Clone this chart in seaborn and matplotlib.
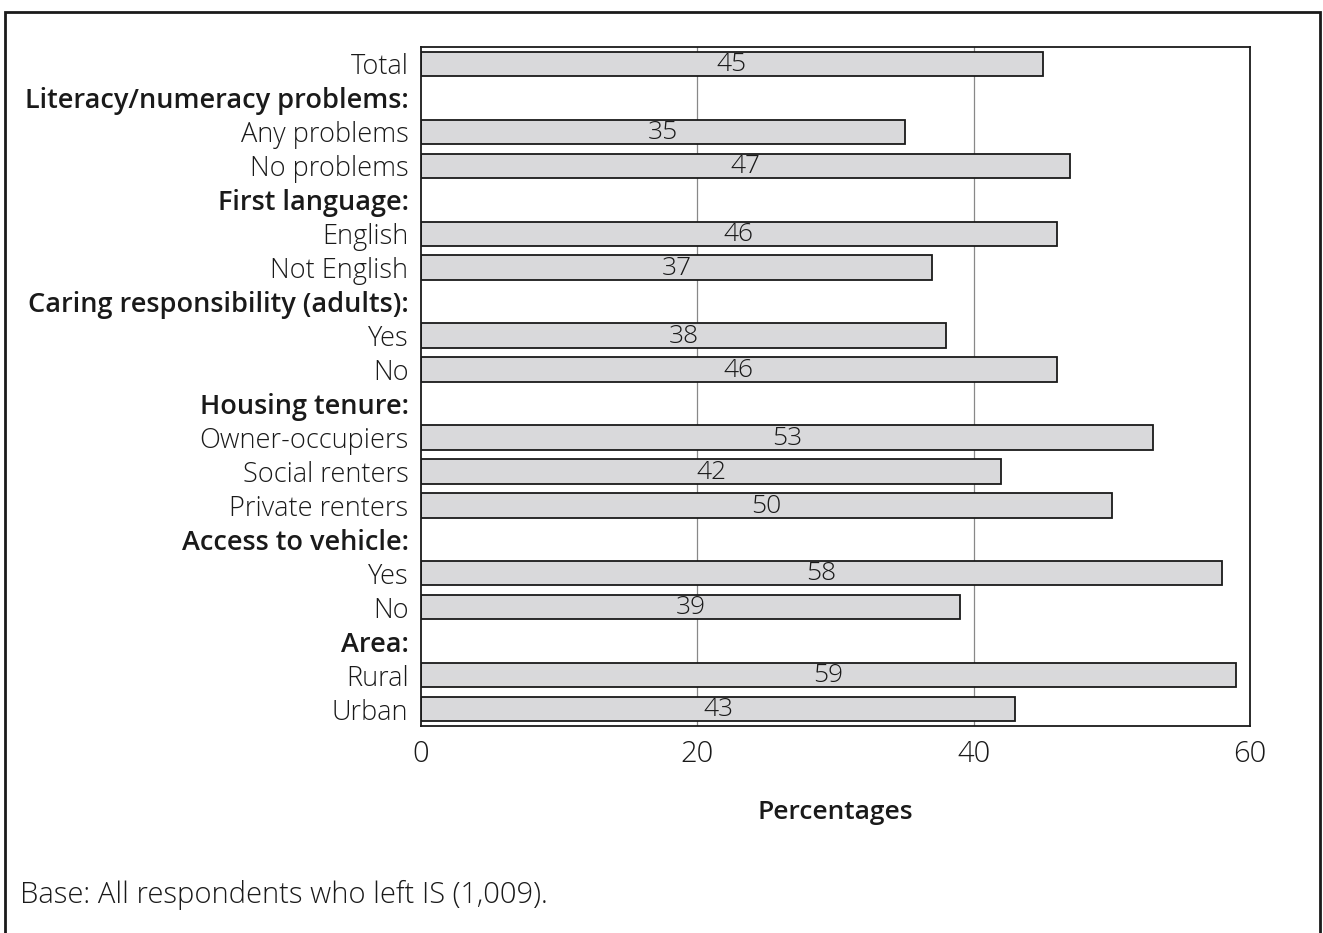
import numpy as np
import pandas as pd
import matplotlib
matplotlib.use("Agg")
import matplotlib.pyplot as plt
from matplotlib.patches import Rectangle
import seaborn as sns

# Row labels (top to bottom); group headings carry no value
labels = [
    "Total",
    "Literacy/numeracy problems:", "Any problems", "No problems",
    "First language:", "English", "Not English",
    "Caring responsibility (adults):", "Yes", "No",
    "Housing tenure:", "Owner-occupiers", "Social renters", "Private renters",
    "Access to vehicle:", "Yes", "No",
    "Area:", "Rural", "Urban",
]
is_heading = [
    False,
    True, False, False,
    True, False, False,
    True, False, False,
    True, False, False, False,
    True, False, False,
    True, False, False,
]
values = [
    45,
    np.nan, 35, 47,
    np.nan, 46, 37,
    np.nan, 38, 46,
    np.nan, 53, 42, 50,
    np.nan, 58, 39,
    np.nan, 59, 43,
]
x_ticks = [0, 20, 40, 60]

sns.set_theme(style="white")
plt.rcParams["font.family"] = ["Open Sans", "DejaVu Sans"]

FS = 19
INK = "#1a1a1a"

keys = [f"r{i}" for i in range(len(labels))]
df = pd.DataFrame({"key": keys, "value": values})

fig = plt.figure(figsize=(13.23, 9.33), dpi=100)
ax = fig.add_axes([421 / 1323, 1 - 726 / 933, (1250 - 421) / 1323, (726 - 47) / 933])

sns.barplot(data=df.dropna(), x="value", y="key", order=keys, orient="h",
            color="#d9d9db", edgecolor=INK, linewidth=1.3,
            width=0.72, saturation=1, ax=ax)

ax.set_xlim(0, 60)
ax.set_ylim(len(labels) - 0.5, -0.5)
ax.set_xticks(x_ticks)
ax.set_xticklabels([str(t) for t in x_ticks], fontsize=21, fontweight="light")
ax.tick_params(axis="x", length=0, pad=10, colors=INK)
ax.tick_params(axis="y", length=0, pad=9)
ax.set_yticks(range(len(labels)))
ax.set_yticklabels(labels, fontsize=FS + 0.5)
for tl, head in zip(ax.get_yticklabels(), is_heading):
    tl.set_fontweight("semibold" if head else "light")
    tl.set_color(INK)

ax.set_axisbelow(True)
for t in [20, 40]:
    ax.axvline(t, color="#888888", linewidth=0.9, zorder=0)
for s in ax.spines.values():
    s.set_color(INK)
    s.set_linewidth(1.3)

ax.set_ylabel("")
ax.set_xlabel("Percentages", fontsize=FS, fontweight="semibold", color=INK, labelpad=22)

# Value labels centred in each bar
for i, v in enumerate(values):
    if not np.isnan(v):
        ax.text(v / 2, i + 0.02, f"{v:.0f}", ha="center", va="center",
                fontsize=FS, fontweight="light", color=INK)

fig.text(20 / 1323, 1 - 895 / 933, "Base: All respondents who left IS (1,009).",
         fontsize=21, fontweight="light", color=INK, va="center", ha="left")

# Outer frame around the figure
fig.patches.append(Rectangle((5 / 1323, -0.02), 1315 / 1323, 1 - 12 / 933 + 0.02,
                             transform=fig.transFigure, fill=False,
                             edgecolor=INK, linewidth=2))

fig.savefig("out.png", dpi=100, facecolor="white")
